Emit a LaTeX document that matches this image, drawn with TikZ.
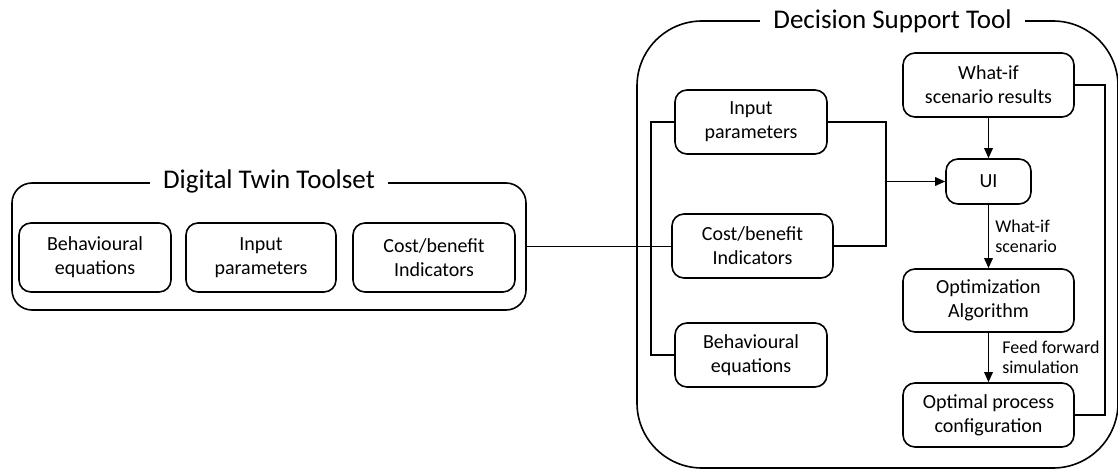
\documentclass[tikz,border=0pt]{standalone}
\usepackage{fontspec}
\setmainfont{Carlito}
\usetikzlibrary{arrows.meta}
\begin{document}
\begin{tikzpicture}[x=1pt,y=-1pt,
  ln/.style={line width=1.6pt},
  arr/.style={ln,-{Triangle[length=10pt,width=8.5pt]}},
  box/.style={draw,line width=1.6pt,rounded corners=12pt,align=center,inner sep=0pt,
    font=\fontsize{20}{24}\selectfont},
  frame/.style={draw,line width=1.6pt,inner sep=0pt},
  ttl/.style={fill=white,inner xsep=13pt,inner ysep=2pt,font=\fontsize{27}{32}\selectfont},
  lbl/.style={align=left,inner sep=0pt,font=\fontsize{18}{20}\selectfont}]

\useasboundingbox (0,0) rectangle (1118,470);

% container frames
\node[frame,rounded corners=20pt,minimum width=514pt,minimum height=127pt] (dt) at (269,246.5) {};
\node[frame,rounded corners=65pt,minimum width=481pt,minimum height=447pt] (dst) at (877.5,244.5) {};

% frame titles sitting on the top edges
\node[ttl,anchor=base] (dttitle) at (269,189) {Digital Twin Toolset};
\node[ttl,anchor=base] (dsttitle) at (892.5,29) {Decision Support Tool};

% Digital Twin Toolset components
\node[box,minimum width=152pt,minimum height=69pt] (dtbe) at (95,257.5) {Behavioural\\equations};
\node[box,minimum width=150pt,minimum height=69pt] (dtip) at (261,257.5) {Input\\parameters};
\node[box,minimum width=162pt,minimum height=69pt] (dtcb) at (434,257.5) {Cost/benefit\\Indicators};

% Decision Support Tool, left column
\node[box,minimum width=152pt,minimum height=64pt] (dstip) at (751,122) {Input\\parameters};
\node[box,minimum width=161pt,minimum height=64pt] (dstcb) at (752.5,246) {Cost/benefit\\Indicators};
\node[box,minimum width=152pt,minimum height=64pt] (dstbe) at (751,355) {Behavioural\\equations};

% Decision Support Tool, right column
\node[box,minimum width=171pt,minimum height=64pt] (whatif) at (988.5,85) {What-if\\scenario results};
\node[box,minimum width=85pt,minimum height=45pt] (ui) at (988.5,181.5) {UI};
\node[box,minimum width=171pt,minimum height=63pt] (opt) at (988.5,300.5) {Optimization\\Algorithm};
\node[box,minimum width=171pt,minimum height=64pt] (optcfg) at (988.5,415) {Optimal process\\configuration};

% routing columns
\coordinate (busx) at (651,0);
\coordinate (jx) at (886,0);
\coordinate (fbx) at (1105,0);

% toolset link into the decision support tool
\draw[ln] (dt.east) -- (dt.east -| dstcb.west);
\draw[ln] (dstip.west) -- (dstip.west -| busx) |- (dstbe.west);

% inputs and indicators feed the UI
\draw[ln] (dstip.east) -- (dstip.east -| jx) -- (jx |- dstcb.east) -- (dstcb.east);
\draw[arr] (jx |- ui.west) -- (ui.west);

% main flow
\draw[arr] (whatif.south) -- (ui.north);
\draw[arr] (ui.south) -- node[lbl,anchor=west,xshift=6pt] (lwi) {What-if\\scenario} (opt.north);
\draw[arr] (opt.south) -- node[lbl,anchor=west,xshift=13pt] (lff) {Feed forward\\simulation} (optcfg.north);

% feedback loop
\draw[ln] (optcfg.east) -- (optcfg.east -| fbx) -- (fbx |- whatif.east) -- (whatif.east);
\end{tikzpicture}
\end{document}
